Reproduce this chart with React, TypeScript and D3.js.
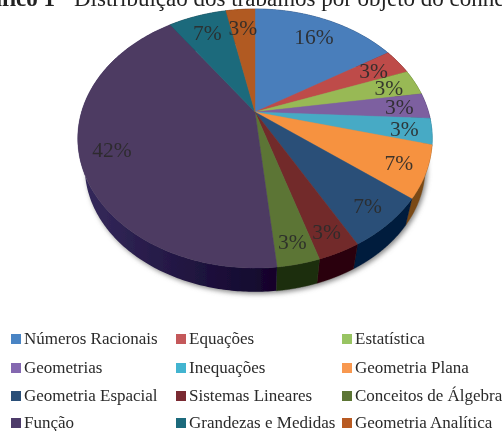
import React from "react";
import * as d3 from "d3";

const categories = [
  "Números Racionais", "Equações", "Estatística",
  "Geometrias", "Inequações", "Geometria Plana",
  "Geometria Espacial", "Sistemas Lineares", "Conceitos de Álgebra",
  "Função", "Grandezas e Medidas", "Geometria Analítica",
];
// number of works per object of knowledge, out of 31
const counts = [5, 1, 1, 1, 1, 2, 2, 1, 1, 13, 2, 1];
const percentLabels = ["16%", "3%", "3%", "3%", "3%", "7%", "7%", "3%", "3%", "42%", "7%", "3%"];
const topColors = [
  "#4a7ebb", "#be4b48", "#98b954", "#7d60a0", "#46aac5", "#f69240",
  "#2a5078", "#722a2c", "#5c7535", "#4d3b62", "#1f6a7c", "#b15a22",
];
const sideColors = [
  "#0c2a50", "#4a1010", "#3e5a1a", "#2a1650", "#10607a", "#7a4a14",
  "#001a3c", "#2a0008", "#1e2e10", "url(#funcaoWall)", "#0a2a35", "#5a2a08",
];
const legendSwatches = [
  "#4a84c4", "#c4585a", "#98c462", "#8468b0", "#42b4d0", "#f89850",
  "#2a5078", "#7a2a30", "#5c7535", "#4d3b6a", "#1f6a7c", "#b85a22",
];
const legendCols = [11, 176, 342];
const legendRows = [339, 368, 396, 423];

// perspective mapping of the pie disc onto the page
const cx = 255;
const cy = 112;
const persp = -0.2046;
const sx = 173.5;
const sy = 124.1;
// the lower rim is a slightly smaller, shifted copy of the top rim
const rimScale = 0.96;
const rimDrop = 30;

const project = (angle: number, r: number): [number, number] => {
  const u = r * Math.sin(angle);
  const v = -r * Math.cos(angle);
  const w = 1 + persp * v;
  return [cx + (sx * u) / w, cy + (sy * v) / w];
};

const projectRim = (angle: number): [number, number] => {
  const [x, y] = project(angle, 1);
  return [cx + (x - cx) * rimScale, cy + (y - cy) * rimScale + rimDrop];
};

const steps = (a0: number, a1: number) => d3.range(0, 201).map((i) => a0 + ((a1 - a0) * i) / 200);

const line = d3.line();

export default function App() {
  const arcs = d3.pie<number>().sort(null)(counts);

  const outline = line(d3.range(0, 361).map((i) => projectRim((i / 360) * 2 * Math.PI))) + "Z";

  return (
    <svg
      width={502}
      height={431}
      style={{ position: "absolute", left: 0, top: 0, fontFamily: "'Liberation Serif', serif" }}
    >
      <defs>
        <filter id="shadow" x="-20%" y="-20%" width="140%" height="140%">
          <feGaussianBlur stdDeviation="2.5" />
        </filter>
        <filter id="soft" x="0" y="0" width="100%" height="100%">
          <feGaussianBlur stdDeviation="0.45" />
        </filter>
        <linearGradient id="funcaoWall" gradientUnits="userSpaceOnUse" x1={80} x2={270} y1={0} y2={0}>
          <stop offset="0" stopColor="#352a5c" />
          <stop offset="1" stopColor="#12052c" />
        </linearGradient>
      </defs>
      <rect width={502} height={431} fill="#fff" />

      <g filter="url(#soft)">
        <text x={55} y={6} fontSize={23} fill="#222" fontWeight="bold" textAnchor="end">Gráfico 1</text>
        <text x={74} y={6} fontSize={23} fill="#222">Distribuição dos trabalhos por objeto do conhecimento</text>

        <path d={outline} fill="#888" filter="url(#shadow)" transform="translate(2,2)" />

        {arcs.map((d, i) => {
          const angles = steps(d.startAngle, d.endAngle);
          const top = angles.map((a) => project(a, 1));
          const rim = angles.map(projectRim).reverse();
          const seam = sideColors[i].startsWith("url") ? "none" : sideColors[i];
          return <path key={i} d={line([...top, ...rim]) + "Z"} fill={sideColors[i]} stroke={seam} strokeWidth={0.4} />;
        })}
        {arcs.map((d, i) => {
          const pts = [[cx, cy] as [number, number], ...steps(d.startAngle, d.endAngle).map((a) => project(a, 1))];
          return <path key={i} d={line(pts) + "Z"} fill={topColors[i]} stroke={topColors[i]} strokeWidth={0.4} />;
        })}
        {arcs.map((d, i) => {
          const mid = (d.startAngle + d.endAngle) / 2;
          const r = 0.8 + 0.08 * Math.max(0, -Math.cos(mid)) + 0.04 * Math.pow(Math.max(0, Math.sin(mid)), 8);
          const [x, y] = project(mid, r);
          return (
            <text key={i} x={x} y={y} dy="0.35em" textAnchor="middle" fontSize={21.5} fill="#2a2a2a" fillOpacity={0.9}>
              {percentLabels[i]}
            </text>
          );
        })}

        {categories.map((name, i) => {
          const x = legendCols[i % 3];
          const y = legendRows[Math.floor(i / 3)];
          return (
            <g key={name}>
              <rect x={x} y={y - 5} width={10} height={10} fill={legendSwatches[i]} />
              <text x={x + 13} y={y} dy="0.32em" fontSize={17} fill="#2a2a2a">{name}</text>
            </g>
          );
        })}
      </g>
    </svg>
  );
}
